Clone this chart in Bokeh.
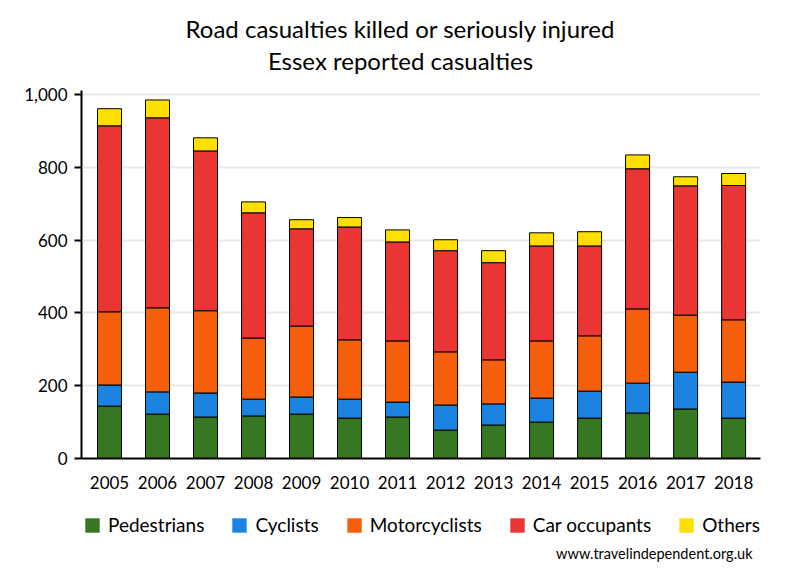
from bokeh.plotting import figure
from bokeh.layouts import column
from bokeh.models import (ColumnDataSource, Range1d, Legend, LegendItem, Label,
                          NumeralTickFormatter, FixedTicker)
from bokeh.embed import file_html
from bokeh.resources import INLINE

years = [2005, 2006, 2007, 2008, 2009, 2010, 2011, 2012, 2013, 2014, 2015, 2016, 2017, 2018]
pedestrians = [144, 122, 114, 117, 122, 111, 114, 78, 92, 100, 111, 125, 136, 111]
cyclists = [58, 61, 66, 46, 47, 52, 41, 69, 58, 66, 74, 82, 101, 99]
motorcyclists = [201, 231, 226, 168, 195, 163, 168, 146, 121, 157, 152, 204, 157, 171]
car_occupants = [511, 522, 439, 344, 267, 310, 272, 278, 267, 261, 247, 385, 355, 369]
others = [47, 49, 36, 30, 25, 26, 33, 30, 33, 36, 39, 38, 25, 33]

series = ["pedestrians", "cyclists", "motorcyclists", "car_occupants", "others"]
labels = ["Pedestrians", "Cyclists", "Motorcyclists", "Car occupants", "Others"]
colors = ["#377623", "#1b84e1", "#f55f0c", "#e93534", "#ffdf00"]
y_ticks = [0, 200, 400, 600, 800, 1000]
title_lines = ["Road casualties killed or seriously injured", "Essex reported casualties"]
footer_text = "www.travelindependent.org.uk"

FONT = "Lato"
W = 784

source = ColumnDataSource(dict(years=years, pedestrians=pedestrians, cyclists=cyclists,
                               motorcyclists=motorcyclists, car_occupants=car_occupants,
                               others=others))


def blank_fig(h, x_range, y_range):
    f = figure(width=W, height=h, output_backend="svg", toolbar_location=None,
               x_range=x_range, y_range=y_range,
               x_axis_location=None, y_axis_location=None, min_border=0)
    f.grid.visible = False
    f.outline_line_color = None
    return f


# ---- title strip (its frame is aligned with the chart frame, which starts at x=81) ----
tfig = blank_fig(80, Range1d(0, 1), Range1d(0, 1))
tfig.add_layout(Label(x=319, y=52, x_units="screen", y_units="screen", text=title_lines[0],
                      text_font=FONT, text_font_size="24px", text_align="center",
                      text_baseline="middle", text_color="black"))
tfig.add_layout(Label(x=319, y=20, x_units="screen", y_units="screen", text=title_lines[1],
                      text_font=FONT, text_font_size="24px", text_align="center",
                      text_baseline="middle", text_color="black"))

# ---- main chart ----
p = figure(width=W, height=420, output_backend="svg", toolbar_location=None,
           x_range=Range1d(2004.417, 2018.56), y_range=Range1d(0, 1011),
           min_border_left=81, min_border_right=24, min_border_top=10, min_border_bottom=42)
p.title.visible = False
p.outline_line_color = None

p.vbar_stack(series, x="years", width=0.5, source=source, color=colors,
             line_color="black", line_width=1)

p.xgrid.grid_line_color = None
p.ygrid.grid_line_color = "#e8e8e8"
p.ygrid.grid_line_width = 2
p.ygrid.ticker = FixedTicker(ticks=y_ticks)

p.yaxis.ticker = FixedTicker(ticks=y_ticks)
p.yaxis.formatter = NumeralTickFormatter(format="0,0")
p.xaxis.ticker = FixedTicker(ticks=years)
for ax in (p.xaxis, p.yaxis):
    ax.minor_tick_line_color = None
    ax.major_label_text_font = FONT
    ax.major_label_text_font_size = "17px"
    ax.major_label_text_color = "black"
    ax.axis_line_color = "black"
    ax.axis_line_width = 2
p.xaxis.major_tick_line_color = None
p.xaxis.major_tick_out = 0
p.xaxis.major_tick_in = 0
p.xaxis.major_label_standoff = 17
p.yaxis.major_tick_line_color = "black"
p.yaxis.major_tick_line_width = 2
p.yaxis.major_tick_out = 7
p.yaxis.major_tick_in = 0
p.yaxis.major_label_standoff = 7

# ---- legend + footer strip (swatch renderers sit outside this strip's y-range) ----
lfig = blank_fig(64, Range1d(2004.417, 2018.56), Range1d(5000, 6000))
swatches = lfig.vbar_stack(series, x="years", width=0.5, source=source, color=colors,
                           line_color=None)
legend = Legend(items=[LegendItem(label=l, renderers=[r]) for l, r in zip(labels, swatches)],
                orientation="horizontal", location=(2, 28),
                label_text_font=FONT, label_text_font_size="19px", label_text_color="black",
                glyph_width=18, glyph_height=18, label_standoff=7, spacing=26,
                border_line_color=None, background_fill_alpha=0, padding=0, margin=0)
lfig.add_layout(legend, "center")
lfig.add_layout(Label(x=671, y=11, x_units="screen", y_units="screen", text=footer_text,
                      text_font=FONT, text_font_size="14.5px", text_align="right",
                      text_baseline="middle", text_color="black"))

layout = column(tfig, p, lfig, spacing=0)
open("out.html", "w").write(file_html(layout, INLINE))
